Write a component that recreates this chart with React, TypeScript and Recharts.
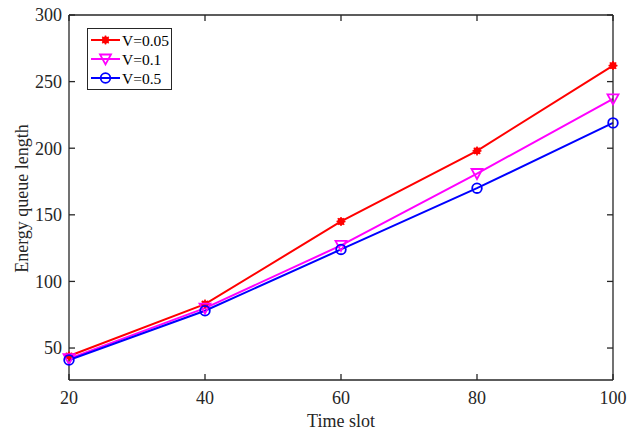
import React from 'react';
import { LineChart, Line, XAxis, YAxis, Legend } from 'recharts';

const timeSlots = [20, 40, 60, 80, 100];
const seriesV005 = [44, 83, 145, 198, 262];
const seriesV01 = [42, 80, 127, 181, 237];
const seriesV05 = [41, 78, 124, 170, 219];
const xTicks = [20, 40, 60, 80, 100];
const yTicks = [50, 100, 150, 200, 250, 300];
const yDomain = [26, 300];
const seriesNames = ['V=0.05', 'V=0.1', 'V=0.5'];
const xLabel = 'Time slot';
const yLabel = 'Energy queue length';

const data = timeSlots.map((t, i) => ({
  t,
  a: seriesV005[i],
  b: seriesV01[i],
  c: seriesV05[i],
}));

const FONT = '"Liberation Serif", "Times New Roman", serif';
const AXIS = '#262626';
const RED = '#FF0000';
const MAGENTA = '#FF00FF';
const BLUE = '#0000FF';

const starShape = (cx: number, cy: number, color: string, k?: string) => (
  <g key={k}>
    <circle cx={cx} cy={cy} r={3.2} fill={color} stroke={color} strokeWidth={1} />
    <line x1={cx - 4.5} y1={cy} x2={cx + 4.5} y2={cy} stroke={color} strokeWidth={1.5} />
    <line x1={cx} y1={cy - 4.5} x2={cx} y2={cy + 4.5} stroke={color} strokeWidth={1.5} />
    <line x1={cx - 3.2} y1={cy - 3.2} x2={cx + 3.2} y2={cy + 3.2} stroke={color} strokeWidth={1.5} />
    <line x1={cx - 3.2} y1={cy + 3.2} x2={cx + 3.2} y2={cy - 3.2} stroke={color} strokeWidth={1.5} />
  </g>
);

const triShape = (cx: number, cy: number, color: string, k?: string) => (
  <polygon
    key={k}
    points={`${cx - 5.5},${cy - 4.5} ${cx + 5.5},${cy - 4.5} ${cx},${cy + 5.5}`}
    fill="none"
    stroke={color}
    strokeWidth={1.8}
  />
);

const circShape = (cx: number, cy: number, color: string, k?: string) => (
  <circle key={k} cx={cx} cy={cy} r={4.8} fill="none" stroke={color} strokeWidth={1.8} />
);

const StarDot = (p: any) => (p.cx == null ? <g key={`s${p.index}`} /> : starShape(p.cx, p.cy, RED, `s${p.index}`));
const TriDot = (p: any) => (p.cx == null ? <g key={`t${p.index}`} /> : triShape(p.cx, p.cy, MAGENTA, `t${p.index}`));
const CircDot = (p: any) => (p.cx == null ? <g key={`c${p.index}`} /> : circShape(p.cx, p.cy, BLUE, `c${p.index}`));

const legendDefs = [
  { name: seriesNames[0], color: RED, shape: starShape },
  { name: seriesNames[1], color: MAGENTA, shape: triShape },
  { name: seriesNames[2], color: BLUE, shape: circShape },
];

const LegendBox = () => (
  <div
    style={{
      width: 85,
      height: 62,
      border: `1.5px solid ${AXIS}`,
      background: '#fff',
      boxSizing: 'border-box',
    }}
  >
    <svg width={82} height={59} style={{ display: 'block' }}>
      {legendDefs.map((d, i) => {
        const y = 11 + i * 19;
        return (
          <g key={d.name}>
            <line x1={3} y1={y} x2={32} y2={y} stroke={d.color} strokeWidth={2} />
            {d.shape(17.5, y, d.color)}
            <text x={34} y={y + 5.5} fontFamily={FONT} fontSize={15.5} fill="#000">
              {d.name}
            </text>
          </g>
        );
      })}
    </svg>
  </div>
);

const YLabelContent = (props: any) => {
  const vb = props.viewBox || {};
  const x = (vb.x ?? 0) + 28;
  const y = (vb.y ?? 0) + (vb.height ?? 0) / 2 + 1;
  return (
    <text
      x={x}
      y={y}
      transform={`rotate(-90, ${x}, ${y})`}
      textAnchor="middle"
      fontFamily={FONT}
      fontSize={18}
      fill={AXIS}
    >
      {yLabel}
    </text>
  );
};

const XLabelContent = (props: any) => {
  const vb = props.viewBox || {};
  const x = (vb.x ?? 0) + (vb.width ?? 0) / 2;
  const y = (vb.y ?? 0) + 47;
  return (
    <text x={x} y={y} textAnchor="middle" fontFamily={FONT} fontSize={18} fill={AXIS}>
      {xLabel}
    </text>
  );
};

const tickStyle = { fontFamily: FONT, fontSize: 18, fill: AXIS };
const lineStyle = { stroke: AXIS, strokeWidth: 1.3 };

export default function App() {
  return (
    <div style={{ position: 'absolute', left: 0, top: 0, background: '#fff' }}>
      <LineChart
        width={636}
        height={430}
        data={data}
        margin={{ top: 14, right: 22, left: 0, bottom: 0 }}
      >
        <XAxis
          xAxisId="bottom"
          dataKey="t"
          type="number"
          domain={[20, 100]}
          ticks={xTicks}
          height={50}
          tickSize={-6}
          tickMargin={17}
          tick={tickStyle}
          axisLine={lineStyle}
          tickLine={lineStyle}
          label={<XLabelContent />}
        />
        <XAxis
          xAxisId="top"
          orientation="top"
          dataKey="t"
          type="number"
          domain={[20, 100]}
          ticks={xTicks}
          height={1}
          tickSize={-6}
          tickFormatter={() => ''}
          axisLine={lineStyle}
          tickLine={lineStyle}
        />
        <YAxis
          yAxisId="left"
          type="number"
          domain={yDomain}
          ticks={yTicks}
          width={69}
          tickSize={-6}
          tickMargin={13}
          tick={tickStyle}
          axisLine={lineStyle}
          tickLine={lineStyle}
          label={<YLabelContent />}
          allowDataOverflow
        />
        <YAxis
          yAxisId="right"
          orientation="right"
          type="number"
          domain={yDomain}
          ticks={yTicks}
          width={1}
          tickSize={-6}
          tickFormatter={() => ''}
          axisLine={lineStyle}
          tickLine={lineStyle}
          allowDataOverflow
        />
        <Legend
          layout="horizontal"
          verticalAlign="middle"
          align="center"
          wrapperStyle={{ position: 'absolute', left: 87, top: 28, width: 'auto', height: 'auto' }}
          content={() => <LegendBox />}
        />
        <Line
          xAxisId="bottom"
          yAxisId="left"
          dataKey="a"
          name={seriesNames[0]}
          stroke={RED}
          strokeWidth={2}
          dot={StarDot}
          activeDot={false}
          isAnimationActive={false}
        />
        <Line
          xAxisId="bottom"
          yAxisId="left"
          dataKey="b"
          name={seriesNames[1]}
          stroke={MAGENTA}
          strokeWidth={2}
          dot={TriDot}
          activeDot={false}
          isAnimationActive={false}
        />
        <Line
          xAxisId="bottom"
          yAxisId="left"
          dataKey="c"
          name={seriesNames[2]}
          stroke={BLUE}
          strokeWidth={2}
          dot={CircDot}
          activeDot={false}
          isAnimationActive={false}
        />
        <Line
          xAxisId="top"
          yAxisId="right"
          dataKey="c"
          stroke="none"
          dot={false}
          activeDot={false}
          legendType="none"
          isAnimationActive={false}
        />
      </LineChart>
    </div>
  );
}
